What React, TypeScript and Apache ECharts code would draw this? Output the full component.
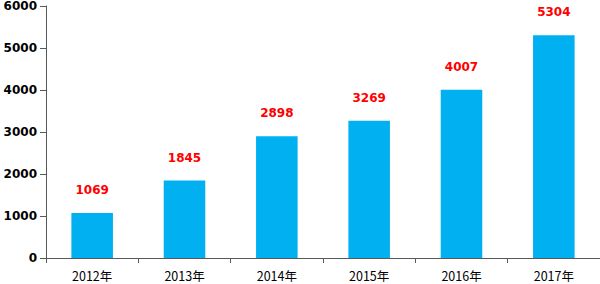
import React, { useEffect, useRef } from "react";
import * as echarts from "echarts";

const categories = ["2012年", "2013年", "2014年", "2015年", "2016年", "2017年"];
const values = [1069, 1845, 2898, 3269, 4007, 5304];
const yTicks = [0, 1000, 2000, 3000, 4000, 5000, 6000];

export default function App() {
  const ref = useRef<HTMLDivElement>(null);
  useEffect(() => {
    if (!ref.current) return;
    const chart = echarts.init(ref.current, undefined, { renderer: "svg" });
    chart.setOption({
      animation: false,
      backgroundColor: "#ffffff",
      grid: { left: 46, right: 0, top: 5, bottom: 26, containLabel: false },
      xAxis: {
        type: "category",
        data: categories,
        boundaryGap: true,
        axisLine: { show: true, lineStyle: { color: "#595959", width: 1 } },
        axisTick: { show: true, alignWithLabel: false, length: 5, lineStyle: { color: "#595959" } },
        axisLabel: {
          color: "#000000",
          fontSize: 12.5,
          fontFamily: "Noto Sans CJK SC, DejaVu Sans, sans-serif",
          margin: 11,
        },
        splitLine: { show: false },
      },
      yAxis: {
        type: "value",
        min: yTicks[0],
        max: yTicks[yTicks.length - 1],
        interval: 1000,
        axisLine: { show: true, lineStyle: { color: "#595959", width: 1 } },
        axisTick: { show: true, length: 6, lineStyle: { color: "#595959" } },
        axisLabel: {
          color: "#000000",
          fontSize: 12,
          fontWeight: "bold",
          fontFamily: "DejaVu Sans, sans-serif",
          margin: 9,
          formatter: (v: number) => String(v),
        },
        splitLine: { show: false },
      },
      series: [
        {
          type: "bar",
          data: values,
          barWidth: "45%",
          itemStyle: { color: "#00B0F0" },
          label: {
            show: true,
            position: "top",
            distance: 17,
            color: "#FF0000",
            fontSize: 12,
            fontWeight: "bold",
            fontFamily: "DejaVu Sans, sans-serif",
          },
        },
      ],
    });
    return () => chart.dispose();
  }, []);
  return <div ref={ref} style={{ width: 600, height: 284, position: "absolute", left: 0, top: 0 }} />;
}
